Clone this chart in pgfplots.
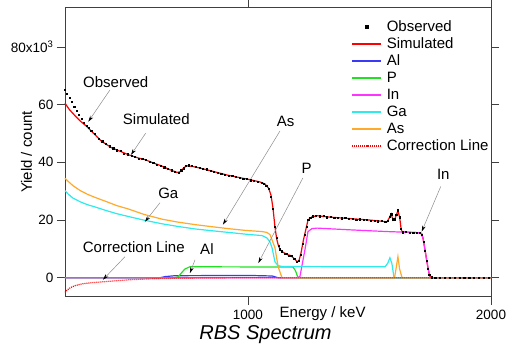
\documentclass[border=0pt]{standalone}
\usepackage{fontspec}
\setmainfont{Liberation Sans}
\usepackage{pgfplots}
\pgfplotsset{compat=1.18}
\usetikzlibrary{arrows.meta}
\definecolor{cRed}{HTML}{FF0000}
\definecolor{cBlue}{HTML}{3A3AF5}
\definecolor{cGreen}{HTML}{22E022}
\definecolor{cMag}{HTML}{FF33FF}
\definecolor{cCyan}{HTML}{2EEAEA}
\definecolor{cOrange}{HTML}{FFAA2A}
\definecolor{cFrame}{HTML}{404040}
\newcommand\fs{\fontsize{15}{18}\selectfont}
\begin{document}
\begin{tikzpicture}[annot/.style={draw=black!45, line width=0.5pt, -{Stealth[length=6pt,width=3.5pt,black]}}]
\begin{axis}[
  scale only axis, width=426pt, height=289.4pt,
  xmin=247, xmax=2000, ymin=-6.58, ymax=93.75,
  xtick={1000,2000}, xticklabels={1000,2000},
  ytick={0,20,40,60,80}, yticklabels={0,20,40,60,{80x10\textsuperscript{3}}},
  tick align=outside, major tick length=8pt, minor tick num=0,
  axis line style={cFrame, line width=0.8pt},
  tick style={cFrame, line width=0.8pt},
  ticklabel style={font=\fontsize{13.5}{15}\selectfont},
  xticklabel style={yshift=-2pt},
  xlabel={Energy / keV},
  xlabel style={at={(axis description cs:0.5035,0)}, anchor=base west, yshift=-21pt, inner sep=0pt, font=\fs},
  ylabel={Yield / count},
  ylabel style={at={(axis description cs:-0.0775,0.5)}, anchor=base, inner sep=0pt, font=\fs},
  title={RBS Spectrum},
  title style={at={(axis description cs:0.4707,-0.1693)}, anchor=base, inner sep=0pt, font=\fontsize{20}{24}\selectfont\itshape},
  clip=false,
  legend style={at={(axis description cs:0.997,0.960)}, anchor=north east, draw=none, fill=none, inner sep=0pt, font=\fs, row sep=1pt,
    nodes={inner sep=1pt, text height=11pt, text depth=3pt},
    /tikz/every odd column/.append style={column sep=4pt}},
  legend cell align=left,
  legend image code/.code={\draw[mark repeat=2,mark phase=2] plot coordinates {(0pt,0pt) (14.5pt,0pt) (29pt,0pt)};},
]
\addplot[only marks, mark=square*, mark size=0.6pt, black, legend image post style={mark size=1.4pt}] coordinates {
(247,65.1)(255,63.9)(265,62.4)(275,60.9)(285,59.4)(295,57.8)(305,56.5)(315,55.0)(325,53.8)(335,52.7)
(345,51.9)(355,51.0)(370,49.8)(385,48.3)(400,47.3)(415,46.4)(430,45.6)(445,44.9)(460,44.2)(475,43.9)
(490,43.1)(505,42.8)(520,42.2)(535,42.0)(550,41.4)(565,41.2)(580,40.8)(595,40.3)(610,39.9)(625,39.2)
(640,38.9)(655,38.3)(670,37.8)(685,37.3)(700,36.8)(715,36.5)(725,37.3)(735,38.0)(745,38.8)(755,39.0)
(770,38.7)(785,38.5)(800,38.2)(815,37.7)(830,37.6)(845,37.0)(860,36.7)(875,36.5)(890,36.0)(905,35.8)
(920,35.4)(935,35.3)(950,34.9)(965,34.8)(980,34.3)(995,34.2)(1010,33.8)(1025,33.7)(1040,33.2)(1055,33.0)
(1065,32.6)(1075,32.0)(1085,30.8)(1095,28.2)(1103,24.0)(1111,17.8)(1118,13.8)(1125,11.2)(1132,9.9)(1140,9.2)
(1150,8.4)(1160,8.3)(1170,7.6)(1180,7.5)(1190,6.6)(1200,5.6)(1208,5.9)(1216,8.0)(1224,11.8)(1232,14.9)
(1240,17.8)(1248,20.2)(1256,20.9)(1265,21.3)(1280,21.6)(1295,21.3)(1310,21.4)(1325,21.0)(1340,21.1)(1355,20.8)
(1370,20.9)(1385,20.6)(1400,20.7)(1415,20.4)(1430,20.5)(1445,20.2)(1460,20.3)(1475,20.0)(1490,20.1)(1505,19.8)
(1520,19.9)(1535,19.6)(1550,19.7)(1565,19.4)(1575,19.8)(1582,21.2)(1589,22.0)(1596,20.3)(1603,20.3)(1610,21.8)
(1617,23.4)(1624,21.0)(1630,17.0)(1637,15.8)(1650,15.9)(1665,15.6)(1680,15.7)(1695,15.5)(1708,15.5)(1716,14.8)
(1722,12.5)(1728,9.5)(1734,6.0)(1740,3.0)(1746,1.0)(1755,0.2)(1770,0.1)(1790,0)(1810,0.1)(1830,0)
(1850,0)(1870,0.1)(1890,0)(1910,0)(1930,0.1)(1950,0)(1970,0)(1990,0)
};
\addlegendentry{Observed}
\addplot[cRed, line width=1.2pt] coordinates {
(247,60.5)(265,58.3)(290,56.0)(310,54.3)(337,52.4)(365,50.0)(399,47.2)(440,45.0)(475,43.8)(509,42.6)
(545,41.6)(577,40.9)(610,39.8)(646,38.7)(680,37.4)(708,36.5)(720,36.7)(730,37.6)(742,38.5)(753,38.8)
(770,38.6)(803,38.0)(850,37.0)(914,35.6)(960,34.8)(1008,34.0)(1049,33.2)(1070,32.5)(1085,31.0)(1095,28.5)
(1103,24)(1111,17.6)(1118,13.5)(1124,11.5)(1132,9.7)(1145,8.8)(1161,8.0)(1172,7.8)(1181,7.3)(1192,6.5)
(1202,5.5)(1210,6.0)(1218,8.5)(1228,13)(1235,15.6)(1247,20)(1263,21.1)(1284,21.5)(1337,21.0)(1420,20.5)
(1500,20.0)(1572,19.4)(1580,20.5)(1589,22.1)(1597,20.0)(1605,20.5)(1617,23.2)(1624,21)(1630,17)(1634,15.9)
(1700,15.6)(1712,15.4)(1720,13.8)(1730,9)(1737,5.2)(1745,1.5)(1752,0)(2000,0)
};
\addlegendentry{Simulated}
\addplot[cBlue, line width=1.2pt] coordinates {
(247,0)(638,0)(660,0.4)(700,0.7)(1000,0.8)(1100,0.6)(1115,0.2)(1124,0)(2000,0)
};
\addlegendentry{Al}
\addplot[cGreen, line width=1.2pt] coordinates {
(247,0)(700,0)(712,0.3)(740,3.0)(761,3.8)(1185,3.7)(1195,2.5)(1206,0)(2000,0)
};
\addlegendentry{P}
\addplot[cMag, line width=1.2pt] coordinates {
(247,0)(1205,0)(1214,0.5)(1235,10)(1247,16)(1263,17)(1284,17.2)(1420,16.6)(1572,16)(1708,15.6)
(1716,15.2)(1720,13.8)(1737,5.2)(1749,0)(2000,0)
};
\addlegendentry{In}
\addplot[cCyan, line width=1.2pt] coordinates {
(247,30.2)(260,29.0)(280,27.6)(310,26.3)(340,25.3)(372,24.5)(420,23.2)(460,22.2)(509,21.2)(570,20.0)
(646,18.7)(710,17.8)(783,16.9)(850,16.3)(921,15.7)(990,15.1)(1058,14.6)(1078,13.8)(1090,12.5)(1099,10.4)
(1111,5.5)(1124,4.2)(1140,3.9)(1400,3.8)(1564,3.8)(1575,5.0)(1584,6.9)(1592,5.0)(1601,0)(2000,0)
};
\addlegendentry{Ga}
\addplot[cOrange, line width=1.2pt] coordinates {
(247,34.5)(260,33.4)(280,31.9)(310,30.2)(340,28.9)(372,27.8)(420,26.3)(460,25.0)(509,23.8)(570,22.0)
(646,20.3)(710,19.3)(783,18.4)(850,17.7)(921,17.0)(990,16.4)(1058,16.0)(1078,15.7)(1091,14.9)(1111,10.4)
(1124,3.8)(1140,0)(1603,0)(1609,3)(1617,7.3)(1624,3)(1634,0)(2000,0)
};
\addlegendentry{As}
\addplot[cRed, line width=1.2pt, dash pattern=on 1pt off 1pt] coordinates {
(247,-5.1)(255,-4.3)(270,-3.4)(290,-2.7)(320,-2.1)(360,-1.7)(391,-1.5)(450,-1.1)(514,-0.7)(600,-0.4)
(700,-0.2)(850,-0.1)(1000,0)(2000,0)
};
\addlegendentry{Correction Line}
\coordinate (bl) at (axis description cs:0,0);
\coordinate (tr) at (axis description cs:1,1);
\begin{scope}[font=\fs]
\node[anchor=base] at (axis cs:455.6,66.0) {Observed};
\draw[annot] (axis cs:432,65.1) -- (axis cs:343,54.1);
\node[anchor=base] at (axis cs:622.7,53.0) {Simulated};
\draw[annot] (axis cs:579,50.1) -- (axis cs:518.6,42.6);
\node[anchor=base] at (axis cs:1154.4,52.4) {As};
\draw[annot] (axis cs:1131.8,50.9) -- (axis cs:897,18.4);
\node[anchor=base] at (axis cs:1241.7,36.3) {P};
\draw[annot] (axis cs:1226,34.6) -- (axis cs:1042.5,5.1);
\node[anchor=base] at (axis cs:1803.8,33.9) {In};
\draw[annot] (axis cs:1793,31.6) -- (axis cs:1714.9,16.0);
\node[anchor=base] at (axis cs:672,27.6) {Ga};
\draw[annot] (axis cs:638,26) -- (axis cs:576,19.4);
\node[anchor=base] at (axis cs:530,8.8) {Correction Line};
\draw[annot] (axis cs:494,7.3) -- (axis cs:403,-0.7);
\node[anchor=base] at (axis cs:831,8.0) {Al};
\draw[annot] (axis cs:782,6.2) -- (axis cs:761,1.6);
\end{scope}
\end{axis}
\pgfresetboundingbox
\path ([shift={(-65pt,-57.3pt)}]bl) rectangle ([shift={(21pt,7.3pt)}]tr);
\end{tikzpicture}
\end{document}
